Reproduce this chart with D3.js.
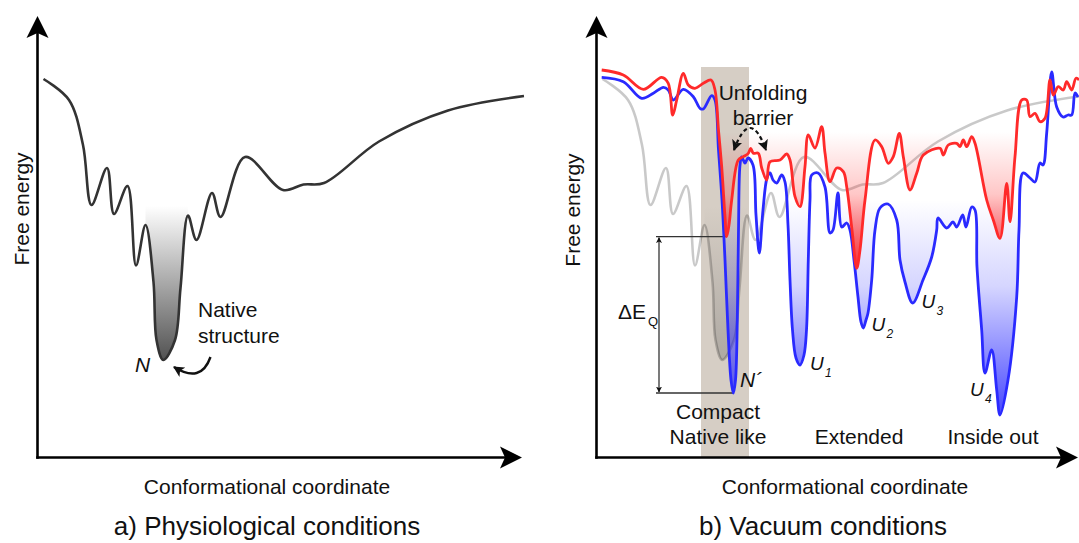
<!DOCTYPE html>
<html>
<head>
<meta charset="utf-8">
<script src="https://cdn.jsdelivr.net/npm/d3@7"></script>
<style>
  body { margin: 0; background: #fff; }
  svg { display: block; }
  text { font-family: "Liberation Sans", Arial, sans-serif; fill: #111; }
</style>
</head>
<body>
<script>
// [conformational coordinate, free energy]
// physiological landscape, also used as the grey ghost in panel b
const physioCurve = [
  [6.5, 378], [32, 357], [46, 312], [54.5, 252], [70, 289], [77, 243], [90.5, 271],
  [99, 191.5], [108.5, 232], [116.5, 175], [119.5, 117], [126.3, 97], [138, 117],
  [143.5, 169], [151, 241.5], [159.5, 217], [175, 264], [183.5, 240], [208, 300],
  [246, 267], [266.5, 272.5], [287, 274], [342, 315.5], [411, 346.5], [487, 361]
];

// vacuum, blue landscape
const vacuumBlue = [
  [5.7, 379.7], [27.3, 375.3], [45.7, 358.7], [57.3, 363.7], [67.3, 369.7], [72.3, 367],
  [77.3, 357], [87.3, 367.7], [97.3, 360.3], [104, 348.7], [107.3, 348], [115.7, 361.3],
  [119, 357], [122.5, 307], [126, 257], [129, 197], [132, 127], [135, 77], [137.3, 64],
  [139.5, 77], [141.3, 137], [142.5, 227], [144, 292], [145.7, 300], [149, 294], [152, 299],
  [157, 292], [160, 242], [163.3, 204], [167, 247], [171, 279], [174, 284], [177, 277],
  [180.7, 274], [185.7, 282], [189, 275], [192, 232], [194, 177], [196.5, 127], [200, 99],
  [204, 92], [208, 102], [210.5, 127], [212.3, 197], [214, 257], [215.7, 282], [222, 284],
  [229, 270], [234, 224], [237, 227], [242, 264], [245.7, 230], [250.7, 234], [254, 227],
  [258, 197], [262, 160], [265, 135], [267.3, 129], [270, 137], [272, 144], [275.7, 177],
  [279, 227], [284, 249], [292, 253], [300.7, 237], [304, 197], [309, 175], [316.7, 154],
  [327, 177], [335.7, 200], [340.7, 227], [342, 239], [350.7, 229], [357, 235], [360.7, 230],
  [366.7, 242], [370, 230], [375.7, 250], [379, 247], [381, 190], [385.7, 127], [389, 84],
  [395.7, 107], [400.7, 67], [404, 42], [412, 77], [420.7, 160], [423, 227], [427, 284],
  [434, 279], [439, 275], [444, 294], [447, 292], [450.7, 324], [455.7, 385], [460.7, 350],
  [467, 340], [472, 342], [475.7, 342], [479, 364], [482, 360]
];

// vacuum, red landscape
const vacuumRed = [
  [5.7, 387], [27.3, 382], [47.3, 367.7], [65.7, 379.7], [72.3, 373.7], [76.7, 342],
  [80.7, 357], [87.3, 383.7], [92.3, 372], [99, 368.7], [107.3, 373.7], [115, 377],
  [119, 367], [122.5, 327], [125.7, 290.3], [129, 240.3], [130.7, 220.3], [133, 232],
  [135.7, 257], [142.3, 297], [147.3, 300.3], [152.3, 303.7], [154.7, 308.7], [157.3, 303.7],
  [162.3, 303.7], [165.7, 289], [170.7, 277], [174, 295.3], [184, 297], [190.7, 303],
  [194, 297], [199, 260.3], [204, 250.3], [209, 290.3], [212.3, 322], [219, 309],
  [225.7, 330.3], [229, 304], [234, 275.3], [240.7, 289], [247.3, 285.3], [250.7, 270.3],
  [256, 227], [260.7, 188.7], [264, 207], [269, 257], [279, 317], [285.7, 310.3],
  [292.3, 293.7], [297.3, 300.3], [303.3, 323.7], [307.3, 300.3], [314, 267], [320.7, 283.7],
  [327.3, 302], [344, 308.7], [347.3, 302], [352.3, 312], [360.7, 313.7], [364, 310.3],
  [367.3, 317], [370.7, 310.3], [375.7, 320.3], [379, 313.7], [390.7, 257], [397.3, 237],
  [404, 218.7], [410.7, 273.7], [414, 235.3], [419, 300.3], [425.7, 357], [430.7, 357],
  [434, 340.3], [439, 343.7], [444, 335.3], [449, 338.7], [454, 377], [457.3, 362],
  [462.3, 370.3], [467.3, 367], [470.7, 375.3], [475.7, 367], [480, 378.7], [483, 377]
];

// compact band on the coordinate axis
const compactBand = [105, 153];
const unfoldedSubs = ["1", "2", "3", "4"];
const regionNames = ["Extended", "Inside out"];

const width = 1079, height = 543;
const axisY = 457, axisTop = 16;

const svg = d3.select("body").append("svg")
  .attr("width", width)
  .attr("height", height)
  .attr("viewBox", [0, 0, width, height]);
const defs = svg.append("defs");

// scales (both panels share the energy scale)
const y = d3.scaleLinear().domain([0, 440]).range([axisY, axisY - 440]);
const xA = d3.scaleLinear().domain([0, 485]).range([37, 522]);
const xB = d3.scaleLinear().domain([0, 485]).range([596, 1081]);

const smooth = d3.curveCatmullRom.alpha(0.5);
const lineOf = x => d3.line().x(d => x(d[0])).y(d => y(d[1])).curve(smooth);
const areaOf = (x, top) => d3.area().x(d => x(d[0])).y0(y(top)).y1(d => y(d[1])).curve(smooth);

// vertical fade: stops are [offset, opacity]
function gradient(id, color, yTop, yBot, stops) {
  const g = defs.append("linearGradient").attr("id", id)
    .attr("gradientUnits", "userSpaceOnUse")
    .attr("x1", 0).attr("x2", 0).attr("y1", yTop).attr("y2", yBot);
  stops.forEach(s => g.append("stop").attr("offset", s[0])
    .attr("stop-color", color).attr("stop-opacity", s[1]));
}
gradient("gGray", "#505050", 206, 362, [[0, 0], [1, 1]]);
gradient("gBlue", "#2e2eff", 200, 416, [[0, 0], [0.4, 0.2], [1, 0.88]]);
gradient("gRed", "#ff2020", 132, 270, [[0, 0], [0.45, 0.25], [1, 0.95]]);

function marker(id, size) {
  defs.append("marker").attr("id", id)
    .attr("viewBox", "0 0 10 10")
    .attr("refX", 9).attr("refY", 5)
    .attr("markerUnits", "userSpaceOnUse")
    .attr("markerWidth", size).attr("markerHeight", size)
    .attr("orient", "auto-start-reverse")
    .append("path").attr("d", "M0,0 L10,5 L0,10 L2.5,5 Z").attr("fill", "#111");
}
marker("mArrow", 11);
marker("mSmall", 6);

function drawAxes(x0, tip) {
  const g = svg.append("g");
  const ax = d3.scaleLinear().range([x0, tip - 12]);
  const ay = d3.scaleLinear().range([axisY, axisTop + 12]);
  g.append("g").attr("transform", `translate(0,${axisY})`)
    .call(d3.axisBottom(ax).tickValues([]).tickSizeOuter(0))
    .call(s => s.select(".domain").attr("stroke", "#000").attr("stroke-width", 2.6).attr("stroke-linecap", "square"));
  g.append("g").attr("transform", `translate(${x0},0)`)
    .call(d3.axisLeft(ay).tickValues([]).tickSizeOuter(0))
    .call(s => s.select(".domain").attr("stroke", "#000").attr("stroke-width", 2.6).attr("stroke-linecap", "square"));
  g.append("path").attr("fill", "#000")
    .attr("d", `M${tip},${axisY + 0.5} L${tip - 22},${axisY - 10.5} L${tip - 17},${axisY + 0.5} L${tip - 22},${axisY + 11.5} Z`);
  g.append("path").attr("fill", "#000")
    .attr("d", `M${x0 + 0.5},${axisTop} L${x0 - 10.5},${axisTop + 22} L${x0 + 0.5},${axisTop + 17} L${x0 + 11.5},${axisTop + 22} Z`);
}

function text(x, yy, str, size, opts = {}) {
  const t = svg.append("text").attr("x", x).attr("y", yy)
    .attr("font-size", size)
    .attr("text-anchor", opts.anchor || "start")
    .text(str);
  if (opts.italic) t.attr("font-style", "italic");
  if (opts.rotate) t.attr("transform", `rotate(-90,${x},${yy})`);
  return t;
}

// ---------- panel a ----------
defs.append("clipPath").attr("id", "wellA").append("rect")
  .attr("x", xA(108.5)).attr("y", 0).attr("width", xA(151) - xA(108.5)).attr("height", axisY);
svg.append("path").datum(physioCurve)
  .attr("clip-path", "url(#wellA)")
  .attr("fill", "url(#gGray)")
  .attr("d", areaOf(xA, 255));
svg.append("path").datum(physioCurve)
  .attr("fill", "none").attr("stroke", "#333").attr("stroke-width", 2.6)
  .attr("d", lineOf(xA));
drawAxes(37, 522);

text(29, 209, "Free energy", 21, { anchor: "middle", rotate: true });
text(267, 494, "Conformational coordinate", 21, { anchor: "middle" });
text(267, 535, "a) Physiological conditions", 26, { anchor: "middle" });
text(198, 317, "Native", 21);
text(198, 343, "structure", 21);
text(135, 372, "N", 21, { italic: true });
svg.append("path")
  .attr("d", "M210.5,357 Q201,384 174,367")
  .attr("fill", "none").attr("stroke", "#111").attr("stroke-width", 2.4)
  .attr("marker-end", "url(#mArrow)");

// ---------- panel b ----------
svg.append("rect")
  .attr("x", xB(compactBand[0])).attr("y", y(390))
  .attr("width", xB(compactBand[1]) - xB(compactBand[0]))
  .attr("height", y(0) - y(390))
  .attr("fill", "#d6cec5");

defs.append("clipPath").attr("id", "wellB").append("rect")
  .attr("x", xB(108.5)).attr("y", 0).attr("width", xB(151) - xB(108.5)).attr("height", axisY);
svg.append("path").datum(physioCurve)
  .attr("clip-path", "url(#wellB)")
  .attr("fill", "url(#gGray)").attr("opacity", 0.3)
  .attr("d", areaOf(xB, 255));
svg.append("path").datum(physioCurve)
  .attr("fill", "none").attr("stroke", "#000").attr("stroke-opacity", 0.21).attr("stroke-width", 2.6)
  .attr("d", lineOf(xB));

svg.append("path").datum(vacuumBlue)
  .attr("fill", "url(#gBlue)")
  .attr("d", areaOf(xB, 257));
svg.append("path").datum(vacuumRed)
  .attr("fill", "url(#gRed)")
  .attr("d", areaOf(xB, 326));

// energy gap between the red and blue minima in the compact band
const inBand = d => d[0] > compactBand[0] && d[0] < compactBand[1];
const redLow = d3.least(vacuumRed.filter(inBand), d => d[1]);
const blueLow = d3.least(vacuumBlue.filter(inBand), d => d[1]);
const gapX = 63;
const gap = svg.append("g").attr("stroke", "#333").attr("stroke-width", 1.3).attr("fill", "none");
gap.append("line").attr("x1", xB(gapX - 3)).attr("x2", xB(redLow[0])).attr("y1", y(redLow[1])).attr("y2", y(redLow[1]));
gap.append("line").attr("x1", xB(gapX - 3)).attr("x2", xB(blueLow[0])).attr("y1", y(blueLow[1])).attr("y2", y(blueLow[1]));
gap.append("line").attr("x1", xB(gapX)).attr("x2", xB(gapX))
  .attr("y1", y(redLow[1]) + 1).attr("y2", y(blueLow[1]) - 1)
  .attr("marker-start", "url(#mSmall)").attr("marker-end", "url(#mSmall)");

svg.append("path").datum(vacuumBlue)
  .attr("fill", "none").attr("stroke", "#2a2aff").attr("stroke-width", 2.8)
  .attr("d", lineOf(xB));
svg.append("path").datum(vacuumRed)
  .attr("fill", "none").attr("stroke", "#ff2a2a").attr("stroke-width", 2.8)
  .attr("d", lineOf(xB));

drawAxes(596, 1078);

text(580, 210, "Free energy", 21, { anchor: "middle", rotate: true });
text(845, 494, "Conformational coordinate", 21, { anchor: "middle" });
text(823, 535, "b) Vacuum conditions", 26, { anchor: "middle" });

text(763, 100, "Unfolding", 21, { anchor: "middle" });
text(763, 125, "barrier", 21, { anchor: "middle" });
svg.append("path")
  .attr("d", "M734,150 Q750,106 766,150")
  .attr("fill", "none").attr("stroke", "#111").attr("stroke-width", 2.2)
  .attr("stroke-dasharray", "4,3")
  .attr("marker-start", "url(#mArrow)").attr("marker-end", "url(#mArrow)");

text(618, 319, "\u0394E", 21);
text(648, 326, "Q", 13);
text(740, 387, "N\u00B4", 21, { italic: true });
text(718, 419, "Compact", 21, { anchor: "middle" });
text(718, 444, "Native like", 21, { anchor: "middle" });

// unfolded minima labels
const uPos = [[810, 370], [871.5, 331], [921.5, 308], [970, 396]];
unfoldedSubs.forEach((s, i) => {
  text(uPos[i][0], uPos[i][1], "U", 19, { italic: true });
  text(uPos[i][0] + 15, uPos[i][1] + 7, s, 12, { italic: true });
});

text(859, 444, regionNames[0], 21, { anchor: "middle" });
text(993, 444, regionNames[1], 21, { anchor: "middle" });
</script>
</body>
</html>
